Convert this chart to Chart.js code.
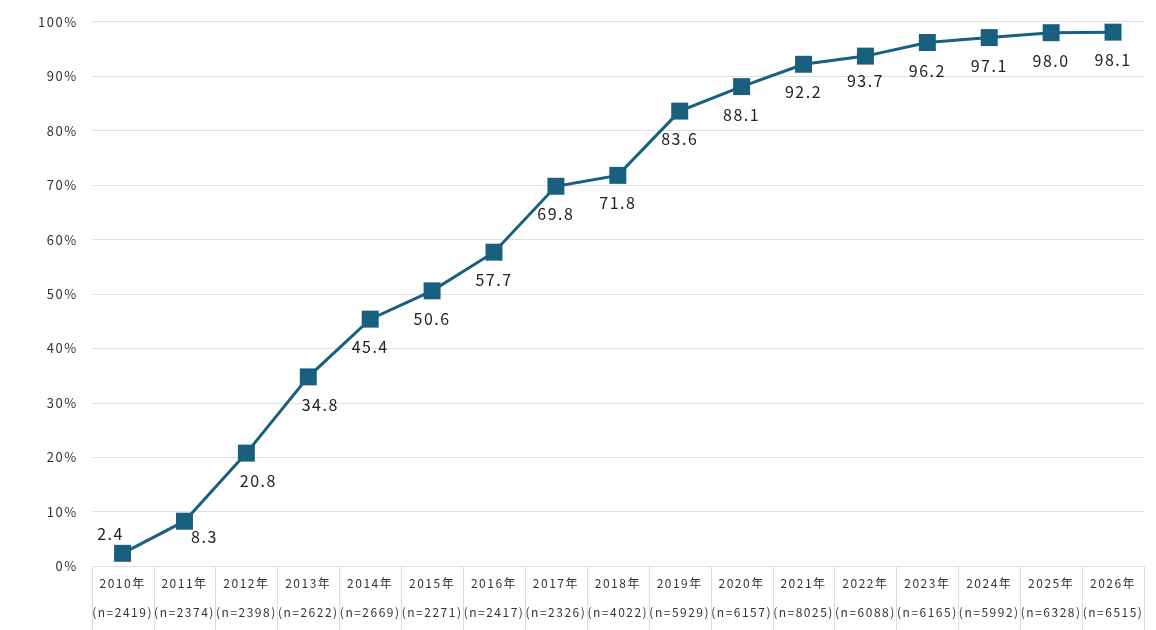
<!DOCTYPE html>
<html>
<head>
<meta charset="utf-8">
<script src="https://cdn.jsdelivr.net/npm/chart.js@4.4.1/dist/chart.umd.min.js"></script>
<style>
  html, body { margin: 0; padding: 0; background: #fff; }
  #wrap { width: 1156px; height: 630px; position: relative; }
</style>
</head>
<body>
<div id="wrap"><canvas id="c"></canvas></div>
<script>
const years = ['2010年','2011年','2012年','2013年','2014年','2015年','2016年','2017年','2018年','2019年','2020年','2021年','2022年','2023年','2024年','2025年','2026年'];
const sampleSizes = ['(n=2419)','(n=2374)','(n=2398)','(n=2622)','(n=2669)','(n=2271)','(n=2417)','(n=2326)','(n=4022)','(n=5929)','(n=6157)','(n=8025)','(n=6088)','(n=6165)','(n=5992)','(n=6328)','(n=6515)'];
const values = [2.4, 8.3, 20.8, 34.8, 45.4, 50.6, 57.7, 69.8, 71.8, 83.6, 88.1, 92.2, 93.7, 96.2, 97.1, 98.0, 98.1];
const yTicks = [0,10,20,30,40,50,60,70,80,90,100];

const FONT = "'Noto Sans CJK JP', 'Noto Sans', sans-serif";
const COLOR = '#185f80';
// label offsets (dx, dy) relative to each marker
const labelOffsets = values.map((v, i) => i === 0 ? [-12, -19] : (i === 1 ? [20, 16] : (i < 4 ? [12, 28] : (i === 12 ? [0, 25] : [0, 28]))));

const spacingPlugin = {
  id: 'spacing',
  beforeDraw(chart) { chart.ctx.letterSpacing = '1.5px'; },
  afterDraw(chart) { chart.ctx.letterSpacing = '0px'; }
};

const tablePlugin = {
  id: 'table',
  afterDraw(chart) {
    const ctx = chart.ctx, x = chart.scales.x, area = chart.chartArea;
    const half = (x.getPixelForValue(1) - x.getPixelForValue(0)) / 2;
    ctx.save();
    ctx.strokeStyle = '#dcdcdc';
    ctx.lineWidth = 1;
    for (let i = 0; i <= years.length; i++) {
      const px = Math.round(x.getPixelForValue(i) - half) + 0.5;
      ctx.beginPath();
      ctx.moveTo(px, area.bottom);
      ctx.lineTo(px, chart.height);
      ctx.stroke();
    }
    ctx.restore();
  }
};

const labelPlugin = {
  id: 'labels',
  afterDatasetsDraw(chart) {
    const ctx = chart.ctx;
    const meta = chart.getDatasetMeta(0);
    ctx.save();
    ctx.letterSpacing = '1.5px';
    ctx.font = "16px " + FONT;
    ctx.fillStyle = '#222';
    ctx.textAlign = 'center';
    ctx.textBaseline = 'middle';
    meta.data.forEach((pt, i) => {
      const [dx, dy] = labelOffsets[i];
      ctx.fillText(values[i].toFixed(1), pt.x + dx, pt.y + dy);
    });
    ctx.restore();
  }
};

new Chart(document.getElementById('c'), {
  type: 'line',
  data: {
    labels: years.map((y, i) => [y, sampleSizes[i]]),
    datasets: [{
      data: values,
      borderColor: COLOR,
      backgroundColor: COLOR,
      borderWidth: 3,
      pointStyle: 'rect',
      pointRadius: 12,
      pointHoverRadius: 12,
      pointBorderWidth: 0,
      tension: 0,
      clip: false
    }]
  },
  options: {
    responsive: true,
    maintainAspectRatio: false,
    animation: false,
    devicePixelRatio: 1,
    layout: { padding: { top: 12, right: 12, left: 30, bottom: 0 } },
    plugins: { legend: { display: false }, tooltip: { enabled: false } },
    scales: {
      x: {
        offset: true,
        grid: { display: false, drawTicks: false },
        border: { display: false },
        ticks: {
          color: '#333',
          font: { family: FONT, size: 12, lineHeight: 2.4 },
          padding: 3,
          maxRotation: 0,
          autoSkip: false
        }
      },
      y: {
        min: 0, max: 100,
        afterBuildTicks(axis) { axis.ticks = yTicks.map(v => ({ value: v })); },
        grid: { color: '#e0e0e0', drawTicks: false, lineWidth: 1 },
        border: { display: false },
        ticks: {
          color: '#333',
          font: { family: FONT, size: 13 },
          padding: 14,
          callback: v => v + '%'
        }
      }
    }
  },
  plugins: [spacingPlugin, labelPlugin, tablePlugin]
});
</script>
</body>
</html>
